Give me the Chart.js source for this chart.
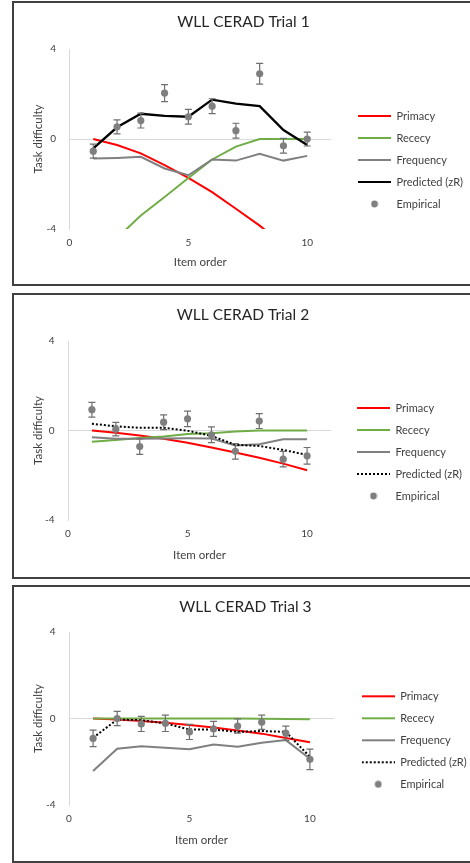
<!DOCTYPE html>
<html>
<head>
<meta charset="utf-8">
<title>WLL CERAD trials</title>
<script src="https://cdn.jsdelivr.net/npm/chart.js@4.4.1/dist/chart.umd.min.js"></script>
<style>
  html, body { margin: 0; padding: 0; overflow: hidden; background: #fff; }
  body { width: 470px; height: 863px; position: relative; }
  .panel { position: absolute; left: 12px; width: 490px; border: 2px solid #404040; box-sizing: border-box; background: #fff; }
  .panel canvas { display: block; }
</style>
</head>
<body>
<div class="panel" id="p1" style="top:1px;height:285px"><canvas id="c1"></canvas></div>
<div class="panel" id="p2" style="top:293px;height:286px"><canvas id="c2"></canvas></div>
<div class="panel" id="p3" style="top:585px;height:278px"><canvas id="c3"></canvas></div>
<script>
// Item positions on the x axis
const itemOrder = [1, 2, 3, 4, 5, 6, 7, 8, 9, 10];
const seriesNames = ['Primacy', 'Rececy', 'Frequency', 'Predicted (zR)', 'Empirical'];
const titles = ['WLL CERAD Trial 1', 'WLL CERAD Trial 2', 'WLL CERAD Trial 3'];
const xTicks = [0, 5, 10];
const yTicks = [-4, 0, 4];

// Trial 1
const t1Primacy = [0, -0.27, -0.64, -1.16, -1.73, -2.36, -3.1, -3.85, -4.7, -5.5];
const t1Recency = [-5.4, -4.4, -3.4, -2.58, -1.73, -0.91, -0.34, 0, 0, 0];
const t1Frequency = [-0.87, -0.84, -0.79, -1.31, -1.61, -0.91, -0.96, -0.66, -0.96, -0.75];
const t1Predicted = [-0.42, 0.52, 1.12, 1.03, 0.99, 1.75, 1.57, 1.46, 0.4, -0.27];
const t1Empirical = [-0.54, 0.54, 0.82, 2.04, 0.99, 1.46, 0.37, 2.9, -0.3, 0.0];
const t1Error = [0.31, 0.31, 0.33, 0.38, 0.33, 0.33, 0.33, 0.46, 0.33, 0.31];

// Trial 2
const t2Primacy = [0, -0.1, -0.22, -0.37, -0.55, -0.76, -0.98, -1.22, -1.48, -1.78];
const t2Recency = [-0.5, -0.42, -0.34, -0.27, -0.16, -0.12, -0.04, 0, 0, 0];
const t2Frequency = [-0.3, -0.37, -0.37, -0.36, -0.35, -0.36, -0.67, -0.61, -0.39, -0.39];
const t2Predicted = [0.3, 0.19, 0.12, 0.12, -0.01, -0.24, -0.64, -0.69, -0.87, -1.09];
const t2Empirical = [0.93, 0.06, -0.72, 0.37, 0.52, -0.19, -0.93, 0.42, -1.28, -1.13];
const t2Error = [0.33, 0.3, 0.35, 0.33, 0.35, 0.35, 0.35, 0.33, 0.35, 0.37];

// Trial 3
const t3Primacy = [0, -0.05, -0.12, -0.2, -0.3, -0.42, -0.55, -0.7, -0.9, -1.1];
const t3Recency = [0, 0, 0, 0, 0, 0, 0, -0.01, -0.02, -0.03];
const t3Frequency = [-2.43, -1.4, -1.28, -1.35, -1.42, -1.2, -1.31, -1.12, -1.0, -1.86];
const t3Predicted = [-0.89, -0.05, -0.08, -0.23, -0.51, -0.51, -0.62, -0.58, -0.62, -1.77];
const t3Empirical = [-0.92, 0.0, -0.25, -0.22, -0.62, -0.48, -0.35, -0.17, -0.68, -1.89];
const t3Error = [0.38, 0.33, 0.35, 0.38, 0.35, 0.35, 0.33, 0.33, 0.33, 0.47];

const FONT = 'Lato, "Noto Sans", sans-serif';
const TEXT = '#404040';
const CANVAS_W = 486;
const LEGEND_FONT = 11;
const AXIS_FONT = 11.5;

// colours of each series
const colors = ['#ff0000', '#70ad47', '#808080', '#000000', '#7f7f7f'];

// where things sit inside each panel (canvas pixels)
const boxes = [
    { height: 281, chartTop: 46, chartBottom: 226, chartLeft: 55.5, chartRight: 317, titleY: 19, axisTitleY: 259, legendX: 344, legendY: 113, dotted: false },
    { height: 282, chartTop: 46, chartBottom: 225, chartLeft: 54, chartRight: 317, titleY: 20, axisTitleY: 260, legendX: 343, legendY: 113, dotted: true },
    { height: 274, chartTop: 45, chartBottom: 218, chartLeft: 55, chartRight: 320, titleY: 19.7, axisTitleY: 253, legendX: 347.7, legendY: 109.3, dotted: true }
];

const trials = [
    [t1Primacy, t1Recency, t1Frequency, t1Predicted, t1Empirical, t1Error],
    [t2Primacy, t2Recency, t2Frequency, t2Predicted, t2Empirical, t2Error],
    [t3Primacy, t3Recency, t3Frequency, t3Predicted, t3Empirical, t3Error]
];

// small legend icons
function lineIcon(color, dash) {
    const c = document.createElement('canvas');
    c.width = 33; c.height = 4;
    const g = c.getContext('2d');
    g.strokeStyle = color;
    g.lineWidth = 2;
    g.setLineDash(dash);
    g.beginPath();
    g.moveTo(0, 2);
    g.lineTo(33, 2);
    g.stroke();
    return c;
}
function dotIcon(color) {
    const c = document.createElement('canvas');
    c.width = 8; c.height = 8;
    const g = c.getContext('2d');
    g.fillStyle = color;
    g.beginPath();
    g.arc(4, 4, 3.4, 0, Math.PI * 2);
    g.fill();
    return c;
}

// error bars drawn just under the empirical dots
const errorBars = {
    id: 'errorBars',
    beforeDatasetDraw(chart, args) {
        const ds = chart.data.datasets[args.index];
        if (!ds.errors) return;
        const { ctx, scales: { x, y } } = chart;
        ctx.save();
        ctx.strokeStyle = '#6f6f6f';
        ctx.lineWidth = 1.2;
        ds.data.forEach((p, i) => {
            const px = x.getPixelForValue(p.x);
            const top = y.getPixelForValue(p.y + ds.errors[i]);
            const bot = y.getPixelForValue(p.y - ds.errors[i]);
            ctx.beginPath();
            ctx.moveTo(px, top); ctx.lineTo(px, bot);
            ctx.moveTo(px - 3.5, top); ctx.lineTo(px + 3.5, top);
            ctx.moveTo(px - 3.5, bot); ctx.lineTo(px + 3.5, bot);
            ctx.stroke();
        });
        ctx.restore();
    }
};

function toPoints(values) {
    return values.map((v, i) => ({ x: itemOrder[i], y: v }));
}

function makeChart(n) {
    const box = boxes[n];
    const [primacy, recency, frequency, predicted, empirical, errors] = trials[n];
    const canvas = document.getElementById('c' + (n + 1));
    canvas.width = CANVAS_W;
    canvas.height = box.height;

    // legend width, so the plot area lands where it should
    const meas = canvas.getContext('2d');
    meas.font = LEGEND_FONT + 'px ' + FONT;
    const textW = Math.max(...seriesNames.map(s => meas.measureText(s).width));
    const legendPad = 22 - LEGEND_FONT;
    const legendW = legendPad + 33 + LEGEND_FONT / 2 + textW + 10;
    const gap = box.legendX - box.chartRight - legendPad;
    const padR = CANVAS_W - box.chartRight - gap - legendW;
    const padB = box.height - box.axisTitleY - AXIS_FONT * 0.6;

    // move the legend block down to the height it has in the original
    const legendShift = {
        id: 'legendShift',
        afterLayout(chart) {
            const lg = chart.legend;
            const d = box.legendY - legendPad - LEGEND_FONT / 2 - lg.top;
            lg.top += d;
            lg.bottom += d;
        }
    };

    const icons = [
        lineIcon(colors[0], []),
        lineIcon(colors[1], []),
        lineIcon(colors[2], []),
        lineIcon(colors[3], box.dotted ? [2, 2] : []),
        dotIcon(colors[4])
    ];

    const lineSet = (i, values, extra) => Object.assign({
        label: seriesNames[i],
        data: toPoints(values),
        borderColor: colors[i],
        backgroundColor: colors[i],
        borderWidth: 2,
        pointRadius: 0,
        tension: 0,
        showLine: true,
        order: 4 - i
    }, extra || {});

    return new Chart(canvas, {
        type: 'line',
        data: {
            datasets: [
                lineSet(0, primacy),
                lineSet(1, recency),
                lineSet(2, frequency),
                lineSet(3, predicted, box.dotted ? { borderDash: [2, 2], borderWidth: 2 } : { borderWidth: 2.3 }),
                {
                    label: seriesNames[4],
                    data: toPoints(empirical),
                    errors: errors,
                    showLine: false,
                    pointRadius: 3.6,
                    pointBorderWidth: 0,
                    pointBackgroundColor: colors[4],
                    borderColor: colors[4],
                    backgroundColor: colors[4],
                    order: 0
                }
            ]
        },
        options: {
            responsive: false,
            animation: false,
            layout: { padding: { left: 0, right: padR, top: 0, bottom: padB } },
            plugins: {
                title: {
                    display: true,
                    text: titles[n],
                    color: '#262626',
                    font: { family: FONT, size: 15.5, weight: 'normal', lineHeight: 1.2 },
                    padding: { top: box.titleY - 9.3, bottom: box.chartTop - box.titleY - 9.3 }
                },
                legend: {
                    position: 'right',
                    align: 'start',
                    maxWidth: legendW + 2,
                    labels: {
                        usePointStyle: true,
                        pointStyleWidth: 33,
                        padding: legendPad,
                        color: TEXT,
                        font: { family: FONT, size: LEGEND_FONT },
                        sort: (a, b) => a.datasetIndex - b.datasetIndex,
                        generateLabels(chart) {
                            const items = Chart.defaults.plugins.legend.labels.generateLabels(chart);
                            items.forEach(it => { it.pointStyle = icons[it.datasetIndex]; });
                            return items;
                        }
                    }
                },
                tooltip: { enabled: false }
            },
            scales: {
                x: {
                    type: 'linear',
                    min: 0,
                    max: 11,
                    afterBuildTicks(s) { s.ticks = xTicks.map(v => ({ value: v })); },
                    afterFit(s) { s.height = box.height - padB - box.chartBottom; },
                    ticks: { padding: 8, color: TEXT, font: { family: FONT, size: 10 } },
                    grid: { display: false, drawTicks: false },
                    border: { display: false },
                    title: { display: true, text: 'Item order', color: TEXT, padding: { top: 0, bottom: 0 }, font: { family: FONT, size: AXIS_FONT, lineHeight: 1.2 } }
                },
                y: {
                    min: -4,
                    max: 4,
                    afterBuildTicks(s) { s.ticks = yTicks.map(v => ({ value: v })); },
                    afterFit(s) { s.width = box.chartLeft; },
                    ticks: { padding: 13.5, color: TEXT, font: { family: FONT, size: 10 } },
                    grid: {
                        drawTicks: false,
                        color: c => (c.tick && c.tick.value === 0 ? '#d9d9d9' : 'rgba(0,0,0,0)'),
                        lineWidth: 1
                    },
                    border: { display: true, color: '#d9d9d9', width: 1 },
                    title: { display: true, text: 'Task difficulty', color: TEXT, padding: { top: 24 - AXIS_FONT * 0.6, bottom: 0 }, font: { family: FONT, size: AXIS_FONT, lineHeight: 1.2 } }
                },
                gap: {
                    type: 'linear',
                    position: 'right',
                    display: true,
                    afterFit(s) { s.width = gap; },
                    ticks: { display: false },
                    grid: { display: false, drawTicks: false },
                    border: { display: false }
                }
            }
        },
        plugins: [errorBars, legendShift]
    });
}

[0, 1, 2].forEach(makeChart);
</script>
</body>
</html>
